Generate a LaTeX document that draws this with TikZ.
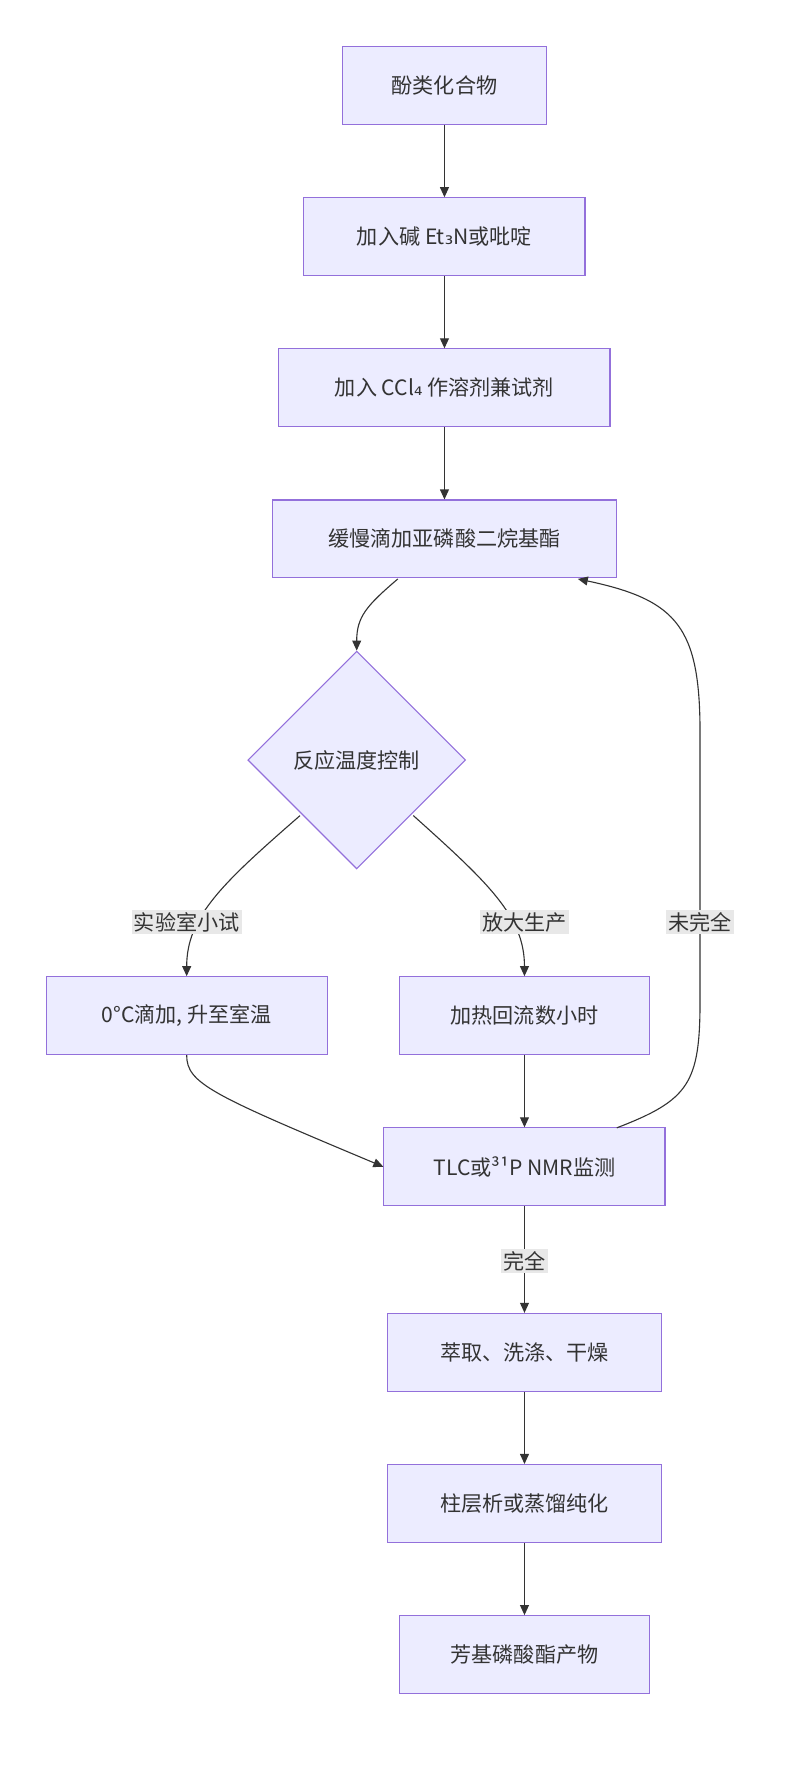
\documentclass[tikz,border=0pt]{standalone}
\usepackage{fontspec}
\setmainfont{Noto Sans CJK SC}
\newfontfamily\subfont{DejaVu Sans}
\usetikzlibrary{arrows.meta,shapes.geometric}
\definecolor{boxfill}{HTML}{ECECFF}
\definecolor{boxline}{HTML}{9370DB}
\definecolor{edge}{HTML}{333333}
\definecolor{lblbg}{HTML}{E8E8E8}
\begin{document}
\begin{tikzpicture}[x=1pt,y=-1pt,
  box/.style={draw=boxline,fill=boxfill,line width=1pt,minimum height=70pt,inner sep=0pt,font=\fontsize{19}{23}\selectfont,text=edge},
  dia/.style={draw=boxline,fill=boxfill,line width=1pt,diamond,minimum width=196pt,minimum height=196pt,inner sep=0pt,font=\fontsize{19}{23}\selectfont,text=edge},
  lbl/.style={fill=lblbg,inner sep=2pt,font=\fontsize{19}{23}\selectfont,text=edge},
  arr/.style={draw=edge,line width=1pt,-{Triangle[length=9pt,width=8pt]}}]
\useasboundingbox (0,0) rectangle (720,1601);
\node[box,minimum width=184pt] (a) at (400,77) {酚类化合物};
\node[box,minimum width=253pt] (b) at (400,213) {加入碱 Et{\subfont ₃}N或吡啶};
\node[box,minimum width=298pt] (c) at (400,349) {加入 CCl{\subfont ₄} 作溶剂兼试剂};
\node[box,minimum width=309pt] (d) at (400,485) {缓慢滴加亚磷酸二烷基酯};
\node[dia] (e) at (321,684) {反应温度控制};
\node[box,minimum width=253pt] (f) at (168,914) {0°C滴加, 升至室温};
\node[box,minimum width=225pt] (g) at (472,914) {加热回流数小时};
\node[box,minimum width=253pt] (h) at (472,1050) {TLC或³¹P NMR监测};
\node[box,minimum width=247pt] (i) at (472,1217) {萃取、洗涤、干燥};
\node[box,minimum width=247pt] (j) at (472,1353) {柱层析或蒸馏纯化};
\node[box,minimum width=225pt] (k) at (472,1489) {芳基磷酸酯产物};
\draw[arr] (a) -- (b);
\draw[arr] (b) -- (c);
\draw[arr] (c) -- (d);
\draw[arr] (358,521) .. controls (330,545) and (321,555) .. (e.north);
\draw[arr] (270,734) .. controls (200,795) and (168,825) .. (f.north);
\draw[arr] (372,734) .. controls (440,795) and (472,825) .. (g.north);
\draw[arr] (f.south) .. controls (168,975) and (190,985) .. (h.west);
\draw[arr] (g) -- (h);
\draw[arr] (555,1015) .. controls (620,990) and (630,975) .. (630,900) -- (630,660) .. controls (630,565) and (610,540) .. (520,521);
\draw[arr] (h) -- (i);
\draw[arr] (i) -- (j);
\draw[arr] (j) -- (k);
\node[lbl] (l1) at (168,830) {实验室小试};
\node[lbl] (l2) at (472,830) {放大生产};
\node[lbl] (l3) at (630,830) {未完全};
\node[lbl] (l4) at (472,1135) {完全};
\end{tikzpicture}
\end{document}
